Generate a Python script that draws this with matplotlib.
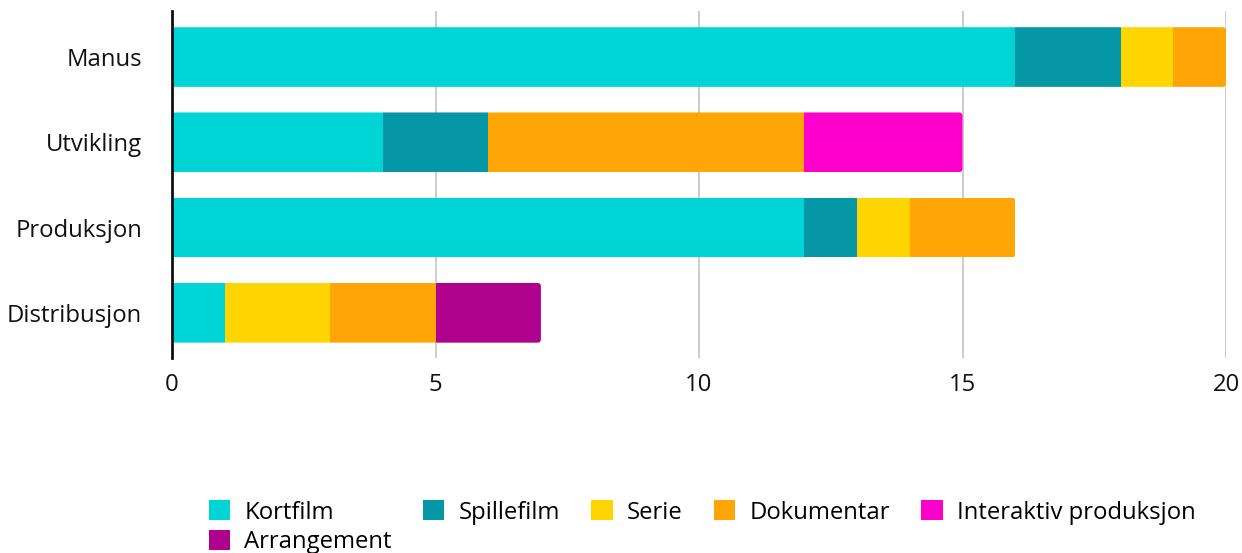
import numpy as np
import matplotlib
matplotlib.use("Agg")
from matplotlib import pyplot as plt
from matplotlib.patches import FancyBboxPatch, Patch

plt.rcParams["font.family"] = ["Open Sans", "DejaVu Sans"]

CATEGORIES = ["Manus", "Utvikling", "Produksjon", "Distribusjon"]

SERIES = ["Kortfilm", "Spillefilm", "Serie", "Dokumentar",
          "Interaktiv produksjon", "Arrangement"]
COLORS = ["#00d4d4", "#0597a5", "#ffd500", "#ffa505", "#ff00cc", "#b0008e"]

kortfilm = [16, 4, 12, 1]
spillefilm = [2, 2, 1, 0]
serie = [1, 0, 1, 2]
dokumentar = [1, 6, 2, 2]
interaktiv = [0, 3, 0, 0]
arrangement = [0, 0, 0, 2]

X_TICKS = [0, 5, 10, 15, 20]

values = [kortfilm, spillefilm, serie, dokumentar, interaktiv, arrangement]

W, H = 1242, 553
fig = plt.figure(figsize=(W / 100, H / 100), dpi=100)
ax = fig.add_axes([172 / W, 1 - 358 / H, (1226 - 172) / W, (358 - 11) / H])

y = np.arange(len(CATEGORIES))
bar_h = 0.70
left = np.zeros(len(CATEGORIES))
bars = []
for name, vals, col in zip(SERIES, values, COLORS):
    vals = np.array(vals, dtype=float)
    b = ax.barh(y, vals, left=left, height=bar_h, color=col, linewidth=0, zorder=2)
    bars.append(b)
    left += vals

ax.set_xlim(0, 20)
ax.set_ylim(3.53, -0.54)

# round the outer ends of every stacked bar
px_x = (1226 - 172) / 20.0
px_y = (358 - 11) / (3.53 + 0.54)
r = 3.5 / px_x
for i, total in enumerate(left):
    clip = FancyBboxPatch((0, y[i] - bar_h / 2), total, bar_h,
                          boxstyle=f"round,pad=0,rounding_size={r}",
                          mutation_aspect=px_x / px_y,
                          transform=ax.transData, facecolor="none", edgecolor="none")
    ax.add_patch(clip)
    for b in bars:
        b[i].set_clip_path(clip)

ax.set_xticks(X_TICKS)
ax.set_yticks(y)
ax.set_yticklabels(CATEGORIES)
ax.tick_params(axis="both", length=0, labelsize=17.2, colors="#111111")
ax.tick_params(axis="y", pad=21.5)
ax.tick_params(axis="x", pad=11)
ax.xaxis.grid(True, color="#c4c4c4", linewidth=1.2, zorder=0)
ax.set_axisbelow(True)
for s in ["top", "right", "bottom"]:
    ax.spines[s].set_visible(False)
ax.spines["left"].set_linewidth(2)
ax.spines["left"].set_color("#111111")
ax.spines["left"].set_zorder(3)

order = [0, 5, 1, 2, 3, 4]
handles = [Patch(facecolor=COLORS[k], edgecolor="none") for k in order]
labels = [SERIES[k] for k in order]
ax.legend(handles, labels, loc="upper center", bbox_to_anchor=(0.503, -0.376),
          ncol=5, frameon=False, fontsize=17.2, handlelength=0.9, handleheight=0.9,
          handletextpad=0.6, columnspacing=1.3, labelspacing=0.22, borderpad=0)

fig.savefig("out.png", dpi=100)
